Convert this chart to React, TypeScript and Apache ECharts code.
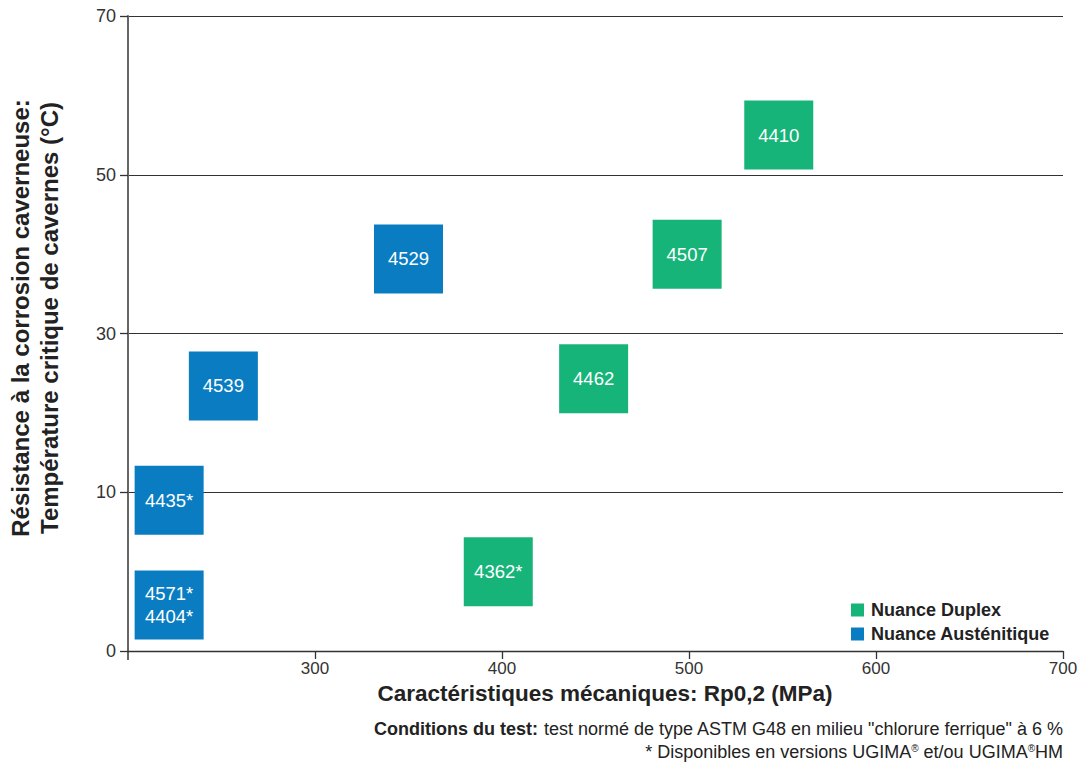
import React, { useEffect, useRef } from "react";
import * as echarts from "echarts";

const yTickLabels = [0, 10, 30, 50, 70];
const xTicks = [200, 300, 400, 500, 600, 700];

const duplexNames = ["4410", "4507", "4462", "4362*"];
const duplexX = [548, 499, 449, 398];
const duplexY = [55, 40, 24.3, 5];

const austNames = ["4529", "4539", "4435*", "4571*\n4404*"];
const austX = [350, 251, 222, 222];
const austY = [39.4, 23.4, 9.5, 2.9];

const GREEN = "#17B47A";
const BLUE = "#0A7DC2";
const FONT = "Liberation Sans, Arial, sans-serif";

// piecewise mapping of temperature onto the evenly spaced tick positions
function yPos(v: number): number {
  for (let i = 0; i < yTickLabels.length - 1; i++) {
    const a = yTickLabels[i];
    const b = yTickLabels[i + 1];
    if (v <= b) return i + (v - a) / (b - a);
  }
  return yTickLabels.length - 1;
}

export default function App() {
  const ref = useRef<HTMLDivElement>(null);
  useEffect(() => {
    if (!ref.current) return;
    const chart = echarts.init(ref.current, undefined, { renderer: "svg" });
    const mk = (names: string[], xs: number[], ys: number[]) =>
      names.map((n, i) => ({ name: n, value: [xs[i], yPos(ys[i])] }));
    const boxLabel = {
      show: true,
      position: "inside",
      formatter: "{b}",
      color: "#fff",
      fontSize: 18.5,
      lineHeight: 23,
      fontFamily: FONT,
    };
    chart.setOption({
      animation: false,
      backgroundColor: "#fff",
      grid: { left: 128, right: 26, top: 16, bottom: 111, containLabel: false },
      xAxis: {
        type: "value",
        min: xTicks[0],
        max: xTicks[xTicks.length - 1],
        interval: 100,
        axisLine: { show: true, lineStyle: { color: "#333", width: 1.3 } },
        axisTick: { show: true, length: 8, lineStyle: { color: "#333", width: 1.3 } },
        axisLabel: {
          showMinLabel: false,
          color: "#333",
          fontSize: 17,
          fontFamily: FONT,
          margin: 9,
        },
        splitLine: { show: false },
      },
      yAxis: {
        type: "value",
        min: 0,
        max: yTickLabels.length - 1,
        interval: 1,
        axisLine: { show: true, onZero: false, lineStyle: { color: "#666", width: 2 } },
        axisTick: { show: true, length: 8, lineStyle: { color: "#333", width: 1.3 } },
        axisLabel: {
          color: "#333",
          fontSize: 18,
          fontFamily: FONT,
          margin: 12,
          formatter: (v: number) => String(yTickLabels[Math.round(v)]),
        },
        splitLine: { show: true, lineStyle: { color: "#333", width: 1.2 } },
      },
      legend: {
        orient: "vertical",
        left: 851,
        top: 601,
        padding: 0,
        itemWidth: 13,
        itemHeight: 13,
        itemGap: 6,
        icon: "rect",
        textStyle: { fontSize: 18, fontWeight: "bold", color: "#222", fontFamily: FONT, padding: [0, 0, 0, 2] },
        data: ["Nuance Duplex", "Nuance Austénitique"],
      },
      series: [
        {
          name: "Nuance Duplex",
          type: "scatter",
          symbol: "rect",
          symbolSize: [69, 69],
          itemStyle: { color: GREEN, opacity: 1 },
          label: boxLabel,
          data: mk(duplexNames, duplexX, duplexY),
        },
        {
          name: "Nuance Austénitique",
          type: "scatter",
          symbol: "rect",
          symbolSize: [69, 69],
          itemStyle: { color: BLUE, opacity: 1 },
          label: boxLabel,
          data: mk(austNames, austX, austY),
        },
      ],
      graphic: [
        {
          type: "line",
          shape: { x1: 128, y1: 651, x2: 128, y2: 660 },
          style: { stroke: "#666", lineWidth: 2 },
        },
        {
          type: "text",
          x: 605,
          y: 693,
          style: {
            text: "Caractéristiques mécaniques: Rp0,2 (MPa)",
            fontSize: 22.5,
            fontWeight: "bold",
            fill: "#222",
            fontFamily: FONT,
            align: "center",
            verticalAlign: "middle",
          },
        },
        {
          type: "text",
          x: 20,
          y: 318,
          rotation: Math.PI / 2,
          style: {
            text: "Résistance à la corrosion caverneuse:",
            fontSize: 24,
            fontWeight: "bold",
            fill: "#222",
            fontFamily: FONT,
            align: "center",
            verticalAlign: "middle",
          },
        },
        {
          type: "text",
          x: 49,
          y: 318,
          rotation: Math.PI / 2,
          style: {
            text: "Température critique de cavernes (°C)",
            fontSize: 24,
            fontWeight: "bold",
            fill: "#222",
            fontFamily: FONT,
            align: "center",
            verticalAlign: "middle",
          },
        },
        {
          type: "text",
          x: 1063,
          y: 729,
          style: {
            text: "{b|Conditions du test:} test normé de type ASTM G48 en milieu \"chlorure ferrique\" à 6 %",
            fontSize: 18,
            fill: "#222",
            fontFamily: FONT,
            align: "right",
            verticalAlign: "middle",
            rich: { b: { fontWeight: "bold", fontSize: 18, fontFamily: FONT, fill: "#222" } },
          },
        },
        {
          type: "text",
          x: 1063,
          y: 752,
          style: {
            text: "* Disponibles en versions UGIMA{s|®} et/ou UGIMA{s|®}HM",
            fontSize: 18,
            fill: "#222",
            fontFamily: FONT,
            align: "right",
            verticalAlign: "middle",
            rich: { s: { fontSize: 10, verticalAlign: "top", fontFamily: FONT, fill: "#222" } },
          },
        },
      ],
    });
    return () => chart.dispose();
  }, []);
  return <div ref={ref} style={{ width: 1089, height: 762, position: "absolute", left: 0, top: 0 }} />;
}
